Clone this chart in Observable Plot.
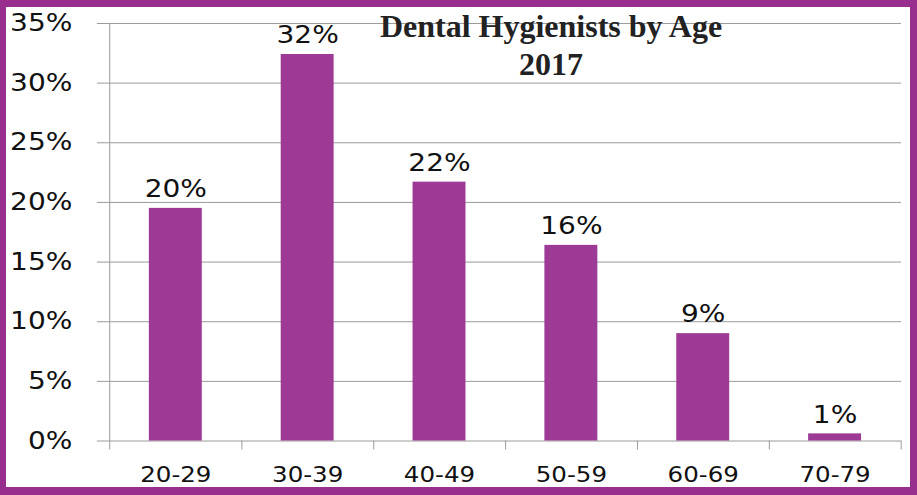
<!DOCTYPE html>
<html>
<head>
<meta charset="utf-8">
<script src="https://cdn.jsdelivr.net/npm/d3@7"></script>
<script src="https://cdn.jsdelivr.net/npm/@observablehq/plot@0.6"></script>
<style>
  html, body { margin: 0; padding: 0; background: #fff; }
  #wrap { position: relative; width: 917px; height: 495px; box-sizing: border-box;
          border: 7px solid #982e8e; border-left-width: 6px; border-bottom-width: 8px; background: #fff; overflow: hidden; }
  #title { position: absolute; left: 0; width: 905px; top: 0px; text-align: center; padding-left: 185px; box-sizing: border-box;
           font-family: "Liberation Serif", "Times New Roman", serif; font-weight: bold; font-size: 32px; line-height: 38px; color: #222; pointer-events: none; }
</style>
</head>
<body>
<div id="wrap"><div id="chart"></div><div id="title">Dental Hygienists by Age<br>2017</div></div>
<script>
const ageGroups = ["20-29", "30-39", "40-49", "50-59", "60-69", "70-79"];
const shares = [0.195, 0.324, 0.217, 0.164, 0.090, 0.006];
const shareLabels = ["20%", "32%", "22%", "16%", "9%", "1%"];
const yTicks = [0, 0.05, 0.10, 0.15, 0.20, 0.25, 0.30, 0.35];

const data = ageGroups.map((g, i) => ({group: g, share: shares[i], label: shareLabels[i]}));

const W = 905, H = 480;
const mL = 102, mR = 9, mT = 16, mB = 46;
const step = (W - mL - mR) / ageGroups.length;
const plotH = H - mT - mB;
const grid = "#9a9a9a";
const sans = "DejaVu Sans, Verdana, sans-serif";

const chart = Plot.plot({
  width: W, height: H,
  marginLeft: mL, marginRight: mR, marginTop: mT, marginBottom: mB,
  style: {fontFamily: sans, background: "transparent", color: "#111"},
  x: {domain: ageGroups, paddingInner: 0.6, paddingOuter: 0.3, label: null},
  y: {domain: [0, 0.35], label: null},
  marks: [
    Plot.gridY(yTicks, {stroke: grid, strokeOpacity: 1, strokeWidth: 1}),
    Plot.axisY(yTicks, {tickFormat: d3.format(".0%"), tickSize: 11, tickPadding: 25, stroke: grid, strokeOpacity: 1, fontSize: 24, label: null}),
    Plot.barY(data, {x: "group", y: "share", fill: "#9c3a96"}),
    // category boundary ticks
    Plot.ruleX([ageGroups[0]], {x: d => d, dx: -step / 2, stroke: grid, insetBottom: -9}),
    Plot.ruleX(ageGroups, {x: d => d, dx: step / 2, stroke: grid, insetTop: plotH, insetBottom: -9}),
    Plot.axisX({tickSize: 0, tickPadding: 26, fontSize: 21, label: null}),
    Plot.text(data, {x: "group", y: "share", text: "label", dy: -19, fontSize: 24, fill: "#111"})
  ]
});
document.getElementById("chart").appendChild(chart);
// widen glyphs horizontally to match the reference's stretched lettering
chart.querySelectorAll("text").forEach(t => {
  const len = t.getComputedTextLength();
  if (len > 0) {
    t.setAttribute("textLength", (len * 1.17).toFixed(1));
    t.setAttribute("lengthAdjust", "spacingAndGlyphs");
  }
});
</script>
</body>
</html>
